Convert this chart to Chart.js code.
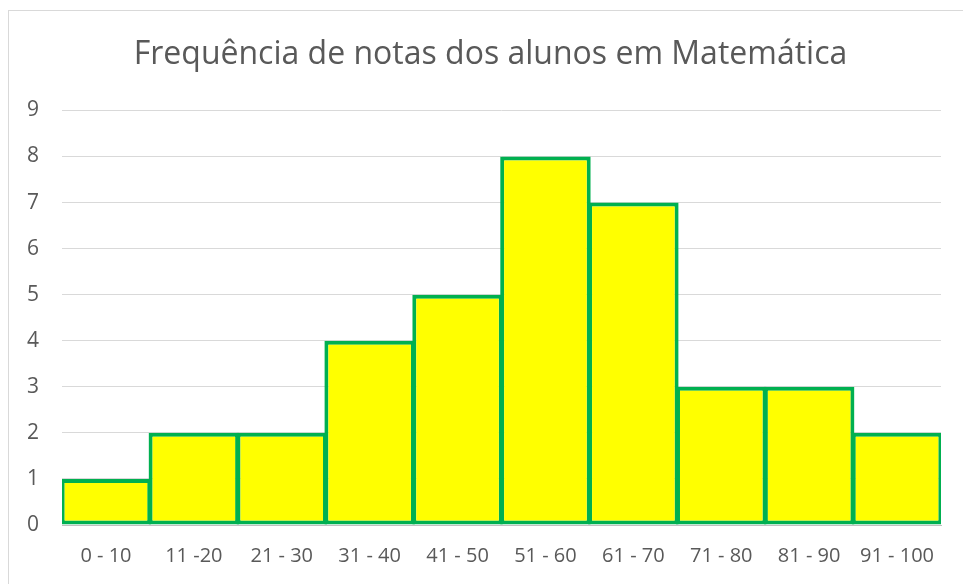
<!DOCTYPE html>
<html>
<head>
<meta charset="utf-8">
<script src="https://cdn.jsdelivr.net/npm/chart.js@4"></script>
<style>
    html, body { margin: 0; padding: 0; background: #fff; }
    #frame { position: absolute; left: 8px; top: 10px; width: 1000px; height: 640px; border: 1px solid #D9D9D9; }
    #wrap { position: absolute; left: 0; top: 0; width: 963px; height: 584px; }
</style>
</head>
<body>
<div id="frame"></div>
<div id="wrap"><canvas id="histChart"></canvas></div>
<script>
// Histogram data
const classes = ['0 - 10', '11 -20', '21 - 30', '31 - 40', '41 - 50', '51 - 60', '61 - 70', '71 - 80', '81 - 90', '91 - 100'];
const frequencies = [1, 2, 2, 4, 5, 8, 7, 3, 3, 2];
const yTicks = [0, 1, 2, 3, 4, 5, 6, 7, 8, 9];

const textGray = '#595959';
const font = 'Open Sans';

// the original title sits a bit right of the canvas centre
const titleShift = {
    id: 'titleShift',
    afterLayout(chart) {
        const t = chart.titleBlock;
        if (t) { t.left += 15; t.right += 15; }
    }
};

document.addEventListener('DOMContentLoaded', () => {
    const ctx = document.getElementById('histChart');
    new Chart(ctx, {
        type: 'bar',
        data: {
            labels: classes,
            datasets: [{
                data: frequencies,
                backgroundColor: '#FFFF00',
                borderColor: '#00B050',
                borderWidth: 4,
                borderSkipped: false,
                barPercentage: 1.03,
                categoryPercentage: 1.0,
            }]
        },
        options: {
            responsive: true, maintainAspectRatio: false,
            animation: false,
            layout: { padding: { left: 10, right: 22, top: 0, bottom: 0 } },
            plugins: {
                legend: { display: false },
                tooltip: { enabled: false },
                title: {
                    display: true,
                    text: 'Frequência de notas dos alunos em Matemática',
                    color: textGray,
                    font: { family: font, size: 32, weight: 'normal', lineHeight: 1.2 },
                    padding: { top: 36, bottom: 36 }
                }
            },
            scales: {
                x: {
                    grid: { display: false, drawTicks: false },
                    border: { color: '#BFBFBF', width: 1 },
                    ticks: { color: textGray, font: { family: font, size: 20 }, padding: 19 },
                    afterFit: axis => { axis.height = 59; }
                },
                y: {
                    min: yTicks[0], max: yTicks[yTicks.length - 1],
                    afterBuildTicks: axis => { axis.ticks = yTicks.map(v => ({ value: v })); },
                    grid: { color: '#D9D9D9', lineWidth: 1, drawTicks: false },
                    border: { display: false },
                    ticks: { color: textGray, font: { family: font, size: 21 }, padding: 23 },
                    afterFit: axis => { axis.width = 52; }
                }
            }
        },
        plugins: [titleShift]
    });
});
</script>
</body>
</html>
